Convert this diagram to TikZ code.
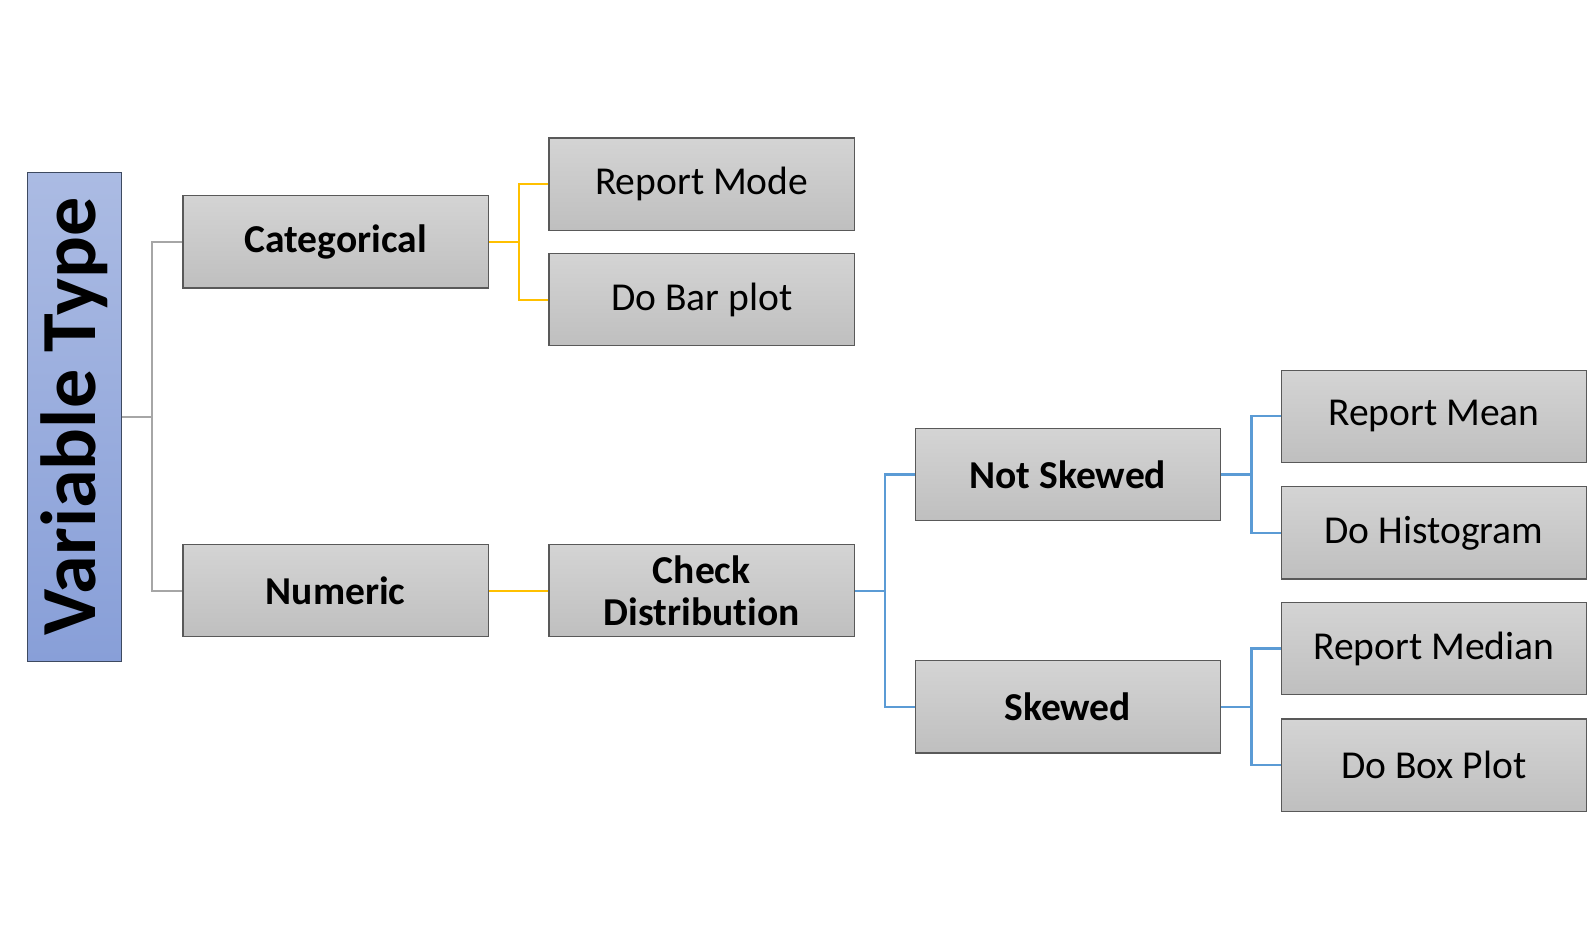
\documentclass[tikz,border=0pt]{standalone}
\usepackage{fontspec}
\usepackage{graphicx}
\setmainfont{Carlito}[Ligatures=NoCommon]
\usetikzlibrary{positioning}

\definecolor{cajaalto}{HTML}{D4D4D4}
\definecolor{cajabajo}{HTML}{BFBFBF}
\definecolor{borde}{HTML}{595959}
\definecolor{tipoalto}{HTML}{ABBBE3}
\definecolor{tipobajo}{HTML}{889FD8}
\definecolor{tipoborde}{HTML}{3E4A60}
\definecolor{lgris}{HTML}{A6A6A6}
\definecolor{lamarillo}{HTML}{FFC000}
\definecolor{lazul}{HTML}{5B9BD5}

\tikzset{
  estilo arbol/.style={
      x=1pt, y=-1pt,
      node distance=361pt,
      caja/.style={rectangle, draw=borde, line width=1.2pt, top color=cajaalto, bottom color=cajabajo,
          minimum width=301pt, minimum height=91pt, inner sep=0pt, align=center,
          font={\fontsize{39}{41}\selectfont}},
      negrita/.style={font={\fontsize{39}{41}\selectfont\bfseries}},
      tipo/.style={rectangle, draw=tipoborde, line width=1.2pt, top color=tipoalto, bottom color=tipobajo,
          minimum width=92pt, minimum height=482pt, inner sep=0pt,
          font={\fontsize{77}{80}\selectfont\bfseries}},
      rama/.style={line width=2.2pt},
    },
}

\begin{document}
\begin{tikzpicture}[estilo arbol]
    \useasboundingbox (0,0) rectangle (1568,937);

    \node[tipo] (tipo) at (73.5,411) {\rotatebox{90}{Variable Type}};
    \node[caja, negrita] (cat) at (331,238.5) {Categorical};
    \node[caja, negrita] (num) at (331,582.5) {Numeric};

    \node[caja, right of=cat, yshift=57pt] (moda) {Report Mode};
    \node[caja, right of=cat, yshift=-57pt] (barras) {Do Bar plot};
    \node[caja, negrita, right of=num] (dist) {Check\\Distribution};

    \node[caja, negrita, right of=dist, yshift=114.5pt] (noses) {Not Skewed};
    \node[caja, negrita, right of=dist, yshift=-114.5pt] (ses) {Skewed};

    \node[caja, right of=noses, yshift=57.5pt] (media) {Report Mean};
    \node[caja, right of=noses, yshift=-57.5pt] (histo) {Do Histogram};
    \node[caja, right of=ses, yshift=57.5pt] (mediana) {Report Median};
    \node[caja, right of=ses, yshift=-57.5pt] (bigote) {Do Box Plot};

    % ramas
    \draw[rama, lgris] (tipo.east) -- ++(30,0) |- (cat.west);
    \draw[rama, lgris] (tipo.east) -- ++(30,0) |- (num.west);
    \draw[rama, lamarillo] (cat.east) -- ++(30,0) |- (moda.west);
    \draw[rama, lamarillo] (cat.east) -- ++(30,0) |- (barras.west);
    \draw[rama, lamarillo] (num.east) -- (dist.west);
    \draw[rama, lazul] (dist.east) -- ++(30,0) |- (noses.west);
    \draw[rama, lazul] (dist.east) -- ++(30,0) |- (ses.west);
    \draw[rama, lazul] (noses.east) -- ++(30,0) |- (media.west);
    \draw[rama, lazul] (noses.east) -- ++(30,0) |- (histo.west);
    \draw[rama, lazul] (ses.east) -- ++(30,0) |- (mediana.west);
    \draw[rama, lazul] (ses.east) -- ++(30,0) |- (bigote.west);
\end{tikzpicture}
\end{document}
